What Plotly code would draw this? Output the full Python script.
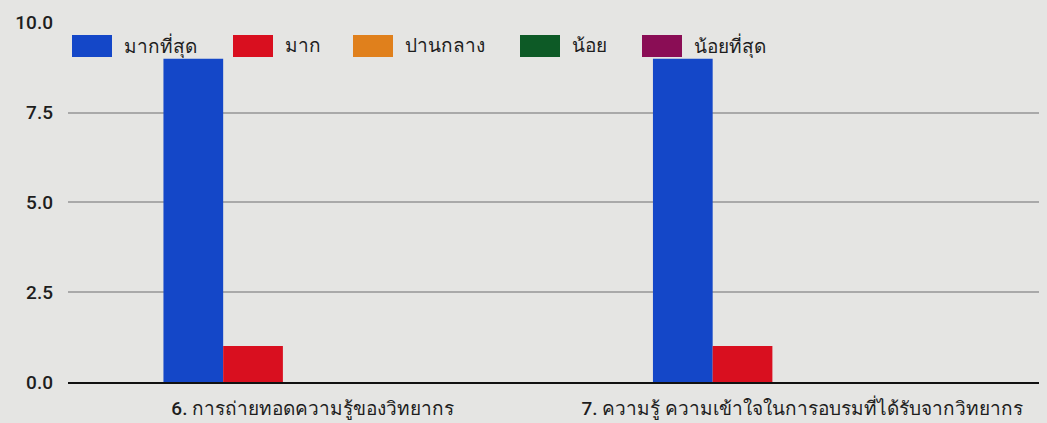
import plotly.graph_objects as go

categories = ["6. การถ่ายทอดความรู้ของวิทยากร",
              "7. ความรู้ ความเข้าใจในการอบรมที่ได้รับจากวิทยากร"]
series_names = ["มากที่สุด", "มาก", "ปานกลาง", "น้อย", "น้อยที่สุด"]
most = [9, 9]
much = [1, 1]
medium = [0, 0]
little = [0, 0]
least = [0, 0]
colors = ["#1447c8", "#d90f1f", "#e0801c", "#0d5a26", "#8a0d55"]
y_ticks = [0, 2.5, 5, 7.5, 10]
y_ticktext = ["0.0", "2.5", "5.0", "7.5", "10.0"]

values = [most, much, medium, little, least]

BG = "#e5e5e3"
# page body has an 8px margin: compensate so the plot lands where the reference's does
W, H = 1039, 415
ML, MR, MT, MB = 60, 0, 14, 41
PW, PH = W - ML - MR, H - MT - MB

fig = go.Figure()
for name, vals, col in zip(series_names, values, colors):
    fig.add_trace(go.Bar(name=name, x=categories, y=vals, marker_color=col,
                         marker_line_width=0, showlegend=False))

# custom legend (wide swatches like the reference)
legend_x = [4, 165, 285, 452, 574]  # px from plot left
sw_w, sw_h = 40, 22
sw_top = 13  # px below plot top
shapes = []
annotations = []
for name, col, lx in zip(series_names, colors, legend_x):
    x0 = lx / PW
    x1 = (lx + sw_w) / PW
    y1 = 1 - sw_top / PH
    y0 = 1 - (sw_top + sw_h) / PH
    shapes.append(dict(type="rect", xref="paper", yref="paper", x0=x0, x1=x1,
                       y0=y0, y1=y1, fillcolor=col, line_width=0, layer="above"))
    annotations.append(dict(xref="paper", yref="paper", x=(lx + sw_w + 10) / PW,
                            y=(y0 + y1) / 2, xanchor="left", yanchor="middle",
                            text=name, showarrow=False,
                            font=dict(size=19, color="#1e1e1e", weight=500)))

fig.update_layout(
    width=W, height=H,
    margin=dict(l=ML, r=MR, t=MT, b=MB),
    paper_bgcolor=BG,
    plot_bgcolor=BG,
    barmode="group",
    bargap=0.39,
    bargroupgap=0,
    font=dict(family="Roboto, Noto Sans, sans-serif", size=19, color="#1e1e1e",
              weight=500),
    shapes=shapes,
    annotations=annotations,
    showlegend=False,
)
fig.update_yaxes(range=[0, 10.02], tickvals=y_ticks, ticktext=y_ticktext,
                 gridcolor="#a9a9a9", gridwidth=1.5, zeroline=False,
                 showline=False, ticks="", ticklabelstandoff=14)
fig.update_xaxes(showline=True, linecolor="#111111", linewidth=2,
                 showgrid=False, ticks="", ticklabelstandoff=8)

fig.write_html("out.html",
               post_script="document.body.style.background='%s';" % BG)
